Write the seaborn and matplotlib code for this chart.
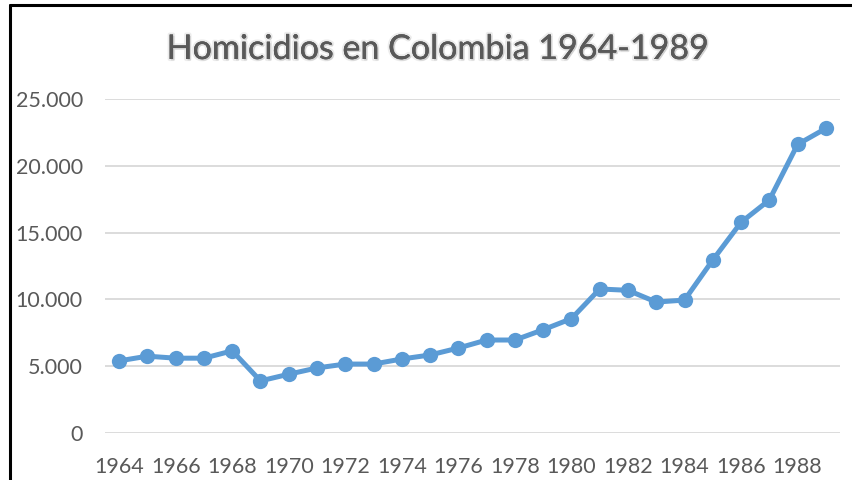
import matplotlib
matplotlib.use("Agg")
import matplotlib.pyplot as plt
import matplotlib.patheffects as pe
from matplotlib.lines import Line2D
from matplotlib.ticker import FuncFormatter
import seaborn as sns
import pandas as pd

years = list(range(1964, 1990))
homicides = [5400, 5750, 5600, 5600, 6150, 3900, 4400, 4870, 5160, 5160,
             5540, 5840, 6360, 6960, 6960, 7730, 8560, 10780, 10680, 9800,
             9950, 12950, 15770, 17440, 21600, 22800]
tick_years = list(range(1964, 1989, 2))
y_ticks = [0, 5000, 10000, 15000, 20000, 25000]

df = pd.DataFrame({"year": years, "homicidios": homicides})

sns.set_theme(style="white")
plt.rcParams['font.family'] = ['Lato', 'DejaVu Sans']

fig = plt.figure(figsize=(8.53, 4.8), dpi=100)
ax = fig.add_axes([105 / 853, 1 - 433 / 480, 735 / 853, 334 / 480])

sns.lineplot(data=df, x="year", y="homicidios", ax=ax, color="#5B9BD5",
             linewidth=3.6, marker="o", markersize=11, markeredgewidth=0)

ax.set_xlim(1963.5, 1989.5)
ax.set_ylim(0, 25000)
ax.set_yticks(y_ticks)
ax.set_xticks(tick_years)
ax.yaxis.set_major_formatter(FuncFormatter(lambda v, p: "0" if v == 0 else f"{int(v):,}".replace(",", ".")))
ax.grid(axis="y", color="#D9D9D9", linewidth=1.3)
ax.set_axisbelow(True)
for s in ax.spines.values():
    s.set_visible(False)
ax.set_xlabel("")
ax.set_ylabel("")
ax.tick_params(axis="both", colors="#595959", labelsize=15.5, length=0)
ax.tick_params(axis="y", pad=16)
ax.tick_params(axis="x", pad=17)

fig.text(437 / 853, 1 - 49 / 480, "Homicidios en Colombia 1964-1989", ha="center", va="center",
         fontsize=24.5, color="#595959",
         path_effects=[pe.withStroke(linewidth=3, foreground="#DADADA", alpha=0.5),
                       pe.withSimplePatchShadow(offset=(1, -1), shadow_rgbFace="#AAAAAA", alpha=0.4),
                       pe.Normal()])

# outer frame (left and top edges visible)
fig.add_artist(Line2D([10 / 853, 10 / 853], [0, 1 - 5 / 480], transform=fig.transFigure, color="black", linewidth=2.2))
fig.add_artist(Line2D([10 / 853, 1], [1 - 5 / 480, 1 - 5 / 480], transform=fig.transFigure, color="black", linewidth=2.2))

fig.savefig("out.png", dpi=100)
plt.close(fig)
